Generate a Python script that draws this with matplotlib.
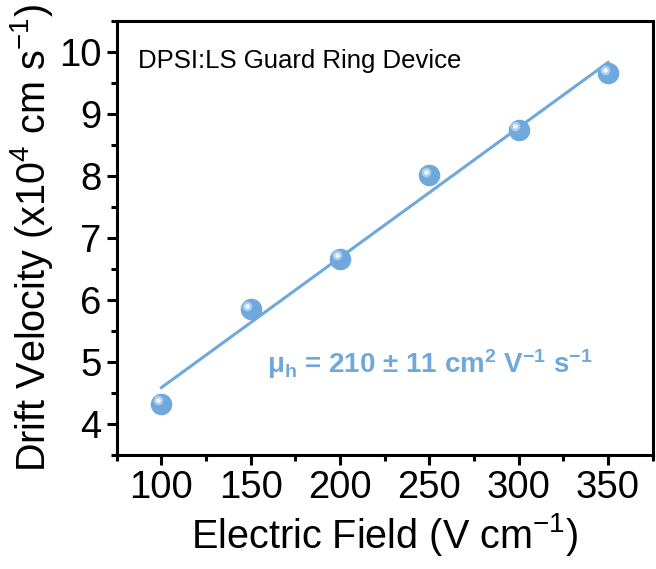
import matplotlib
matplotlib.use("Agg")
import matplotlib.pyplot as plt
import matplotlib.transforms as mtransforms
import numpy as np
from matplotlib.ticker import MultipleLocator

plt.rcParams['font.family'] = ['Liberation Sans', 'DejaVu Sans']
plt.rcParams['mathtext.fontset'] = 'custom'
plt.rcParams['mathtext.rm'] = 'Liberation Sans'
plt.rcParams['mathtext.it'] = 'Liberation Sans'
plt.rcParams['mathtext.bf'] = 'Liberation Sans:bold'

# data
field = [100, 150, 200, 250, 300, 350]
velocity = [4.33, 5.85, 6.67, 8.01, 8.75, 9.66]
device_label = "DPSI:LS Guard Ring Device"
mobility_label = r"$\mathbf{\mu_h}$ = 210 ± 11 cm$^\mathbf{2}$ V$^\mathbf{-1}$ s$^\mathbf{-1}$"

blue = "#6fa8dc"

fig = plt.figure(figsize=(6.56, 5.69), dpi=100)
ax = fig.add_axes([0.178, 0.200, 0.817, 0.763])

# linear fit
k, b = np.polyfit(field, velocity, 1)
xf = np.array([field[0], field[-1]])
ax.plot(xf, k * xf + b, color=blue, lw=2.2, zorder=2)

# shaded spheres
ax.plot(field, velocity, 'o', ms=14.5, color=blue, mec=blue, zorder=3)
off = mtransforms.ScaledTranslation(-2.5 / 72, 2.5 / 72, fig.dpi_scale_trans)
ax.plot(field, velocity, 'o', ms=7, color="#a9cdec", mec='none', zorder=4,
        transform=ax.transData + off)
ax.plot(field, velocity, 'o', ms=3.5, color="#eef6fd", mec='none', zorder=5,
        transform=ax.transData + off)

ax.set_xlim(75, 375)
ax.set_ylim(3.5, 10.5)
ax.xaxis.set_major_locator(MultipleLocator(50))
ax.xaxis.set_minor_locator(MultipleLocator(25))
ax.yaxis.set_major_locator(MultipleLocator(1))
ax.yaxis.set_minor_locator(MultipleLocator(0.5))
ax.set_yticks([4, 5, 6, 7, 8, 9, 10])

for s in ax.spines.values():
    s.set_linewidth(2.2)
ax.tick_params(which='major', direction='out', length=7, width=2.2, labelsize=27.5, pad=4)
ax.tick_params(which='minor', direction='out', length=4, width=2.2)

ax.set_xlabel("Electric Field (V cm$^{-1}$)", fontsize=28.5, labelpad=3)
ax.set_ylabel("Drift Velocity (x10$^{4}$ cm s$^{-1}$)", fontsize=28.5, labelpad=3)

ax.text(0.039, 0.893, device_label, transform=ax.transAxes, fontsize=18.5)
ax.text(0.28, 0.19, mobility_label, transform=ax.transAxes, fontsize=20,
        fontweight='bold', color=blue)

fig.savefig("out.png", dpi=100)
